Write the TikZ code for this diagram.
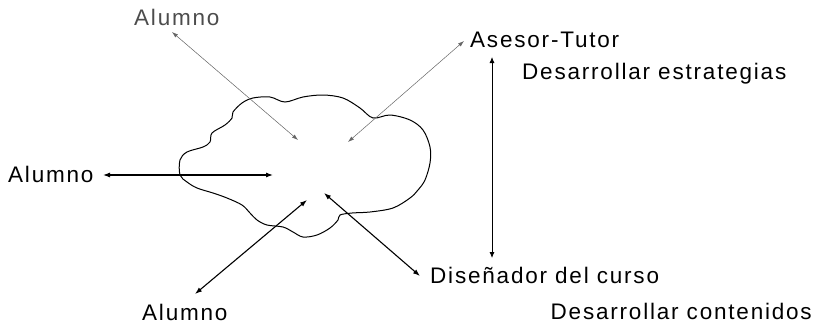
\documentclass[tikz,border=0pt]{standalone}
\usepackage{fontspec}
\setmainfont{Liberation Sans}[LetterSpace=8]
\usetikzlibrary{arrows.meta}
\begin{document}
\begin{tikzpicture}[x=1pt,y=-1pt,
  lbl/.style={inner sep=0pt,font=\fontsize{22.5}{26}\selectfont},
  thinarr/.style={draw=black!60,line width=0.5pt,{Latex[length=6pt,width=4pt]}-{Latex[length=6pt,width=4pt]}},
  boldarr/.style={draw=black,line width=1.1pt,{Latex[length=7pt,width=5pt]}-{Latex[length=7pt,width=5pt]}},
  vertarr/.style={draw=black,line width=0.8pt,{Latex[length=6pt,width=5pt]}-{Latex[length=6pt,width=5pt]}},
  cloudline/.style={draw=black,line width=1pt}]
\useasboundingbox (0,0) rectangle (814,327);
% cloud
\draw[cloudline] plot[smooth cycle,tension=0.55] coordinates {
 (180,175) (180,160) (187,152) (203,147) (210,142) (212,133) (225,125) (232,118)
 (233,112) (242,103) (253,98) (270,97) (285,102) (303,97) (323,95) (343,98)
 (360,108) (373,118) (390,115) (410,120) (423,130) (430,147) (430,163) (425,180)
 (418,190) (410,198) (393,208) (370,212) (352,213) (340,215) (338,220) (330,228)
 (317,235) (303,237) (293,232) (283,227) (267,225) (257,220) (250,213) (242,205)
 (227,198) (213,193) (197,188) (187,182)};
% labels
\node[lbl,anchor=base west,text=black!70] (alTop) at (134,25) {Alumno};
\node[lbl,anchor=base west] (asesor) at (470,47) {Asesor-Tutor};
\node[lbl,anchor=base west] (estr) at (522,79) {Desarrollar estrategias};
\node[lbl,anchor=base west] (alLeft) at (8,182) {Alumno};
\node[lbl,anchor=base west] (disen) at (430,283) {Diseñador del curso};
\node[lbl,anchor=base east] (cont) at (812,319) {Desarrollar contenidos};
\node[lbl,anchor=base west] (alBot) at (142,320) {Alumno};
% arrow end points
\coordinate (aT1) at (172,32);  \coordinate (aT2) at (298,140);
\coordinate (as1) at (464,41);  \coordinate (as2) at (348,142);
\coordinate (aL1) at (103,175); \coordinate (aL2) at (273,175);
\coordinate (aB1) at (195,294); \coordinate (aB2) at (307,200);
\coordinate (d1) at (420,276);  \coordinate (d2) at (324,193);
\coordinate (v1) at (492,57);   \coordinate (v2) at (492,258);
% arrows
\draw[thinarr] (aT1) -- (aT2);
\draw[thinarr] (as1) -- (as2);
\draw[boldarr] (aL1) -- (aL2);
\draw[boldarr] (aB1) -- (aB2);
\draw[boldarr] (d1) -- (d2);
\draw[vertarr] (v1) -- (v2);
\end{tikzpicture}
\end{document}
